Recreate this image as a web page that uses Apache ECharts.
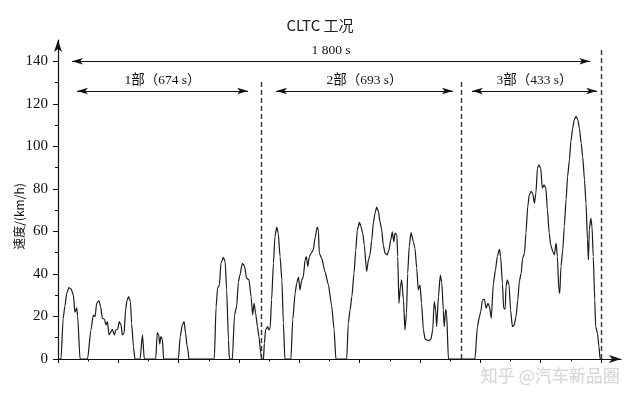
<!DOCTYPE html>
<html>
<head>
<meta charset="utf-8">
<script src="https://cdn.jsdelivr.net/npm/echarts@6/dist/echarts.min.js"></script>
<style>html,body{margin:0;padding:0;background:#fff}#c{width:640px;height:407px}</style>
</head>
<body>
<div id="c"></div>
<script>
// Time (s) and speed (km/h)
var times = [0,10,17,23,29,36,43,51,56,62,65,73,
  98,109,117,123,128,136,141,147,154,159,164,169,176,180,187,192,198,203,209,213,219,224,229,234,240,244,250,255,
  272,280,286,
  324,329,334,337,341,346,350,
  399,405,412,418,423,428,430,434,
  518,524,529,535,540,548,554,559,565,568,
  578,585,592,598,603,611,618,625,633,640,645,650,655,661,666,672,675,
  681,684,688,695,699,703,708,714,719,725,730,736,742,747,752,
  772,778,786,791,797,802,808,813,819,823,828,833,839,846,852,859,863,866,874,885,896,907,915,921,
  957,962,968,974,981,987,992,999,1004,1010,1015,1023,1029,1034,1040,1045,1051,1056,1062,1067,1073,1078,1084,1091,1097,1103,1108,1113,1117,1123,1126,1130,1135,1139,1145,1150,1155,1159,1164,1170,1178,1183,1189,1194,1200,1205,1211,1217,1228,1236,1242,1247,1252,1255,1261,1267,1272,1277,1280,1285,1288,1294,
  1382,1390,1397,1401,1407,1413,1419,1425,1430,1436,1443,1450,1456,1463,1467,1473,1477,1482,1485,1489,1495,1500,1506,1512,1518,1524,1529,1535,1540,1546,1551,1557,1562,1568,1573,1579,1584,1589,1594,1600,1605,1611,1617,1622,1628,1633,1640,1645,1651,1655,1660,1663,1667,1673,1678,1684,1689,1695,1700,1706,1711,1717,1723,1728,1734,1739,1745,1750,1755,1758,1761,1766,1770,1774,1779,1782,1788,1793,1797,1800];
var speeds = [0,0,19,25,31,33.6,33,30,22,24,20.5,0,
  0,13.6,20.7,19.9,26.2,27.5,24.6,19.1,18.7,16,17.6,11.3,12.9,14,11.3,13.7,14,17.6,16,11.3,12.1,23.1,27.8,29.3,27,16.8,5.8,0,
  0,11.3,0,
  0,12.4,11.3,7,10.5,9.2,0,
  0,10.5,16,17.6,12.1,5.8,5,0,
  0,24.6,33.3,34.8,45,47.8,45.8,32.5,8.9,0,
  0,20.7,24.6,36.4,39.5,45,43.8,38,37.2,29.3,20.7,26.2,21.5,15.2,10.5,2.7,0,
  0,7.4,13.7,15.2,13.7,14.4,27.8,45,57.6,62,59.2,48.2,37.2,16.8,0,
  0,18.4,30.9,35.6,38.5,32.5,37.2,38.7,46.6,48.2,43.5,48.2,49.7,51.3,56.8,62,60.7,49.7,47.4,41,35,25,14,0,
  0,16.8,23,29.3,40.3,51.3,60.7,64.2,62.3,59.2,53.7,41.1,46.6,49,56,63.9,68.6,71.4,69.4,64.7,60.7,53.7,49.7,49,51.3,56,59.8,55.1,59.2,58.4,48.2,26.2,34,37.2,27.8,13.7,21.5,40.3,52.8,59.4,55.1,52.1,42.7,32.5,34.8,26.2,13.7,9.3,8.6,9.3,13.7,27,23,15.2,29.3,39.5,36.1,23,15.2,23.4,21.5,0,
  0,15.2,19.9,22.3,27.8,28.1,23.9,26.2,24.6,19.1,35.6,41.9,48.2,51.6,48.2,35.6,23.9,23.4,34,37.2,34.8,23,15.2,16,19.9,27.8,36.4,40.3,47.4,49.7,59.2,71.8,77.2,78.8,78,73.3,78,89.8,91.3,89.8,80.4,81.9,80.4,70.2,59.2,53.7,50.5,49,54.5,48.2,32.5,30.9,43.5,51.3,62.3,74.9,85.8,93.7,102.3,108.6,112.5,114.1,112.5,108.6,101.5,95.2,84.3,73.3,56,46.6,60.7,66.2,62.3,48.2,27.8,15.2,12.1,5.8,0,0];

var yTicks = [0,20,40,60,80,100,120,140];
var yMinorTicks = [10,30,50,70,90,110,130];
var xTicks = [0,200,400,600,800,1000,1200,1400,1600,1800];
var xMinorTicks = [100,300,500,700,900,1100,1300,1500,1700];

// Phase boundaries (s) as drawn and annotation texts
var phaseBounds = [674, 1338, 1800];
var totalLabel = '1 800 s';
var phaseLabels = ['1部（674 s）', '2部（693 s）', '3部（433 s）'];
var phaseArrowSpans = [[63, 630], [723, 1309], [1372, 1787]];
var totalArrowSpan = [46, 1764];
var totalArrowLevel = 140, phaseArrowLevel = 126;
var boundTops = [130.5, 130.5, 145.5];

var serif = "'Liberation Serif','Noto Sans CJK SC',serif";

var chart = echarts.init(document.getElementById('c'));
var lineData = times.map(function (t, i) { return [t, speeds[i]]; });

function arrowPair(span, level, name) {
  return [
    {coord: [span[0], level], name: name, symbol: 'arrow', symbolSize: [5, 11]},
    {coord: [span[1], level], symbol: 'arrow', symbolSize: [5, 11]}
  ];
}
var arrowData = [arrowPair(totalArrowSpan, totalArrowLevel, totalLabel)];
phaseArrowSpans.forEach(function (s, i) {
  arrowData.push(arrowPair(s, phaseArrowLevel, phaseLabels[i]));
});
var dashData = phaseBounds.map(function (b, i) {
  return [{coord: [b, 0]}, {coord: [b, boundTops[i]]}];
});

var axisLineStyle = {color: '#111', width: 1.2};

chart.setOption({
  animation: false,
  title: {
    text: 'CLTC 工况', left: 'center', top: 13,
    textStyle: {fontSize: 15, fontWeight: 'normal', color: '#222', fontFamily: "'Noto Sans CJK SC','Noto Sans',sans-serif"}
  },
  grid: {left: 58, right: 19, top: 40, bottom: 48, containLabel: false, outerBoundsMode: 'none'},
  xAxis: [{
    type: 'value', min: 0, max: 1866, position: 'bottom',
    axisLine: {show: true, lineStyle: axisLineStyle, symbol: ['none', 'arrow'], symbolSize: [6, 12]},
    axisTick: {show: true, customValues: xTicks, length: 4, lineStyle: {color: '#111', width: 1}},
    axisLabel: {show: false},
    splitLine: {show: false}
  }, {
    type: 'value', min: 0, max: 1866, position: 'bottom', offset: 0,
    axisLine: {show: false},
    axisTick: {show: true, customValues: xMinorTicks, length: 2.5, lineStyle: {color: '#111', width: 1}},
    axisLabel: {show: false},
    splitLine: {show: false}
  }],
  yAxis: [{
    type: 'value', min: 0, max: 150, position: 'left',
    name: '速度/(km/h)', nameLocation: 'middle', nameRotate: 90, nameGap: 33, nameMoveOverlap: false,
    nameTextStyle: {fontSize: 12, color: '#111', fontFamily: "'Noto Sans CJK SC',serif", padding: [0, 34, 0, 0]},
    axisLine: {show: true, lineStyle: axisLineStyle, symbol: ['none', 'arrow'], symbolSize: [6, 12]},
    axisTick: {show: true, customValues: yTicks, length: 5, lineStyle: {color: '#111', width: 1}},
    axisLabel: {show: true, customValues: yTicks, margin: 10, fontSize: 15, color: '#111', fontFamily: serif},
    splitLine: {show: false}
  }, {
    type: 'value', min: 0, max: 150, position: 'left', offset: 0,
    axisLine: {show: false},
    axisTick: {show: true, customValues: yMinorTicks, length: 3, lineStyle: {color: '#111', width: 1}},
    axisLabel: {show: false},
    splitLine: {show: false}
  }],
  series: [{
    type: 'line', data: lineData, showSymbol: false, smooth: 0.2, smoothMonotone: 'x',
    lineStyle: {color: '#1a1a1a', width: 1.2},
    z: 3,
    markLine: {
      silent: true, symbol: ['none', 'none'],
      lineStyle: {color: '#333', width: 1.4, type: [5, 3]},
      label: {show: false},
      data: dashData
    }
  }, {
    type: 'line', data: [], showSymbol: false,
    markLine: {
      silent: true, symbol: ['arrow', 'arrow'], symbolSize: 10,
      lineStyle: {color: '#111', width: 1.1, type: 'solid'},
      itemStyle: {color: '#111'},
      label: {show: true, position: 'middle', formatter: '{b}', fontSize: 13.5, color: '#111', fontFamily: serif, distance: 4},
      data: arrowData
    }
  }],
  graphic: [{
    type: 'text', right: 20, top: 367,
    style: {text: '知乎 @汽车新品圈', fontSize: 17, fill: '#d8d8d8', stroke: '#eee', lineWidth: 0.5, fontFamily: "'Noto Sans CJK SC',sans-serif"}
  }]
});
</script>
</body>
</html>
